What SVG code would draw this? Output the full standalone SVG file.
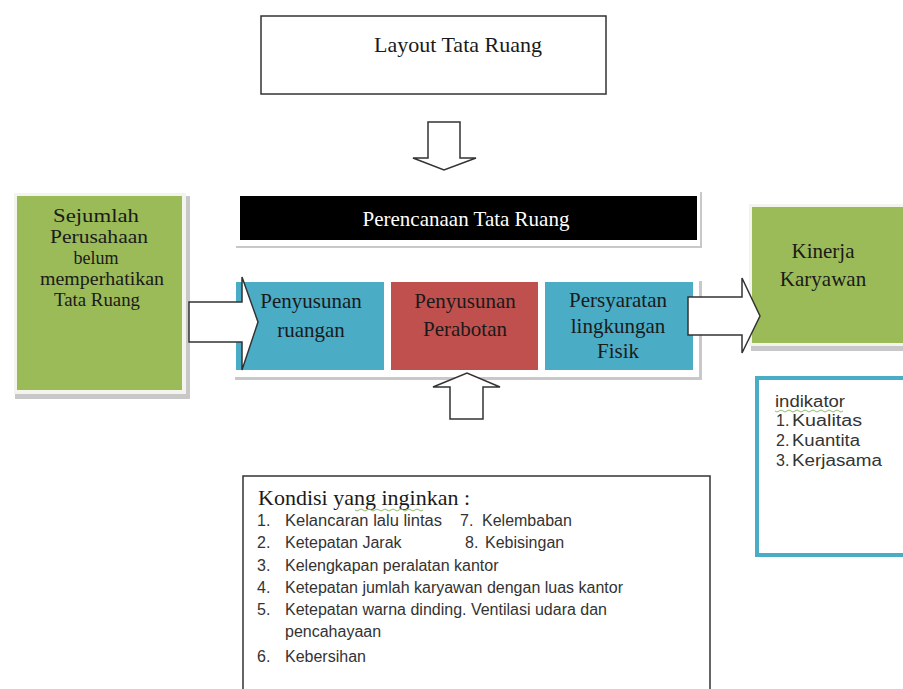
<svg xmlns="http://www.w3.org/2000/svg" width="903" height="689" viewBox="0 0 903 689">
<style>
.serif{font-family:"Liberation Serif","Times New Roman",serif;font-size:21px;fill:#1a1a1a;text-anchor:middle}
.sm{font-size:18px}
.sans{font-family:"Liberation Sans",Arial,sans-serif;font-size:16px;fill:#333}
.ind{font-family:"Liberation Sans",Arial,sans-serif;font-size:16px;fill:#333}
.arrow{fill:#fff;stroke:#333;stroke-width:1.5;stroke-linejoin:miter}
.shadow{fill:#c8c8c8}
.squig{fill:none;stroke:#8fbf6a;stroke-width:1}
</style>
<rect width="903" height="689" fill="#fff"/>

<g id="layout">
<rect x="261" y="16" width="345" height="78" fill="#fff" stroke="#333" stroke-width="1.5"/>
<text class="serif" x="458" y="52" textLength="168" lengthAdjust="spacingAndGlyphs">Layout Tata Ruang</text>
</g>

<g id="perencanaan">
<rect x="236" y="192" width="466" height="56" class="shadow"/>
<rect x="234" y="190" width="466" height="56" fill="#fff"/>
<rect x="240" y="196" width="457" height="44" fill="#000"/>
<text class="serif" x="466" y="226" style="fill:#fff">Perencanaan Tata Ruang</text>
</g>

<g id="sejumlah">
<rect x="15" y="196" width="175" height="203" class="shadow"/>
<rect x="14" y="193" width="172" height="201" fill="#f4f4ee"/>
<rect x="17" y="196" width="165" height="194" fill="#9bbb59"/>
<text class="serif sm" x="96" y="222" textLength="86" lengthAdjust="spacingAndGlyphs">Sejumlah</text>
<text class="serif sm" x="99" y="243" textLength="98" lengthAdjust="spacingAndGlyphs">Perusahaan</text>
<text class="serif sm" x="96" y="264">belum</text>
<text class="serif sm" x="102" y="285" textLength="124" lengthAdjust="spacingAndGlyphs">memperhatikan</text>
<text class="serif sm" x="97" y="306" textLength="86" lengthAdjust="spacingAndGlyphs">Tata Ruang</text>
</g>

<g id="frame">
<rect x="235" y="281" width="467" height="99" class="shadow"/>
<rect x="233" y="278" width="466" height="99" fill="#fff"/>
</g>

<g id="penyusunan-ruangan">
<rect x="236" y="282" width="148" height="88" fill="#4bacc6"/>
<text class="serif" x="311" y="308">Penyusunan</text>
<text class="serif" x="311" y="337">ruangan</text>
</g>

<g id="penyusunan-perabotan">
<rect x="391" y="282" width="147" height="88" fill="#c0504d"/>
<text class="serif" x="465" y="308">Penyusunan</text>
<text class="serif" x="465" y="336">Perabotan</text>
</g>

<g id="persyaratan">
<rect x="545" y="282" width="148" height="88" fill="#4bacc6"/>
<text class="serif" x="618" y="307">Persyaratan</text>
<text class="serif" x="618" y="333">lingkungan</text>
<text class="serif" x="618" y="358">Fisik</text>
</g>

<g id="kinerja">
<rect x="751" y="210" width="152" height="141" class="shadow"/>
<rect x="749" y="204" width="154" height="142" fill="#f4f4ee"/>
<rect x="752" y="207" width="151" height="136" fill="#9bbb59"/>
<text class="serif" x="823" y="258">Kinerja</text>
<text class="serif" x="823" y="286">Karyawan</text>
</g>

<g id="indikator">
<rect x="757" y="378" width="150" height="177" fill="#fff" stroke="#4bacc6" stroke-width="4"/>
<text class="ind" x="775" y="407" textLength="70" lengthAdjust="spacingAndGlyphs">indikator</text>
<path class="squig" d="M775 411 q2 2 4 0 t4 0 t4 0 t4 0 t4 0 t4 0 t4 0 t4 0 t4 0 t4 0 t4 0 t4 0 t4 0 t4 0 t4 0 t4 0 t4 0"/>
<text class="ind" x="776" y="426">1.</text><text class="ind" x="792" y="426" textLength="70" lengthAdjust="spacingAndGlyphs">Kualitas</text>
<text class="ind" x="776" y="446">2.</text><text class="ind" x="792" y="446" textLength="68" lengthAdjust="spacingAndGlyphs">Kuantita</text>
<text class="ind" x="776" y="466">3.</text><text class="ind" x="792" y="466" textLength="90" lengthAdjust="spacingAndGlyphs">Kerjasama</text>
</g>

<g id="kondisi">
<rect x="243" y="476" width="467" height="230" fill="#fff" stroke="#333" stroke-width="1.5"/>
<text class="serif" x="258" y="505" style="text-anchor:start" textLength="212" lengthAdjust="spacingAndGlyphs">Kondisi yang inginkan :</text>
<path class="squig" d="M355 510 q2 2 4 0 t4 0 t4 0 t4 0 t4 0 t4 0 t4 0 t4 0 t4 0 t4 0 t4 0 t4 0 t4 0 t4 0 t4 0 t4 0 t4 0"/>
<text class="sans" x="257" y="526">1.</text><text class="sans" x="285" y="526" textLength="157" lengthAdjust="spacingAndGlyphs">Kelancaran lalu lintas</text>
<text class="sans" x="460" y="526">7.</text><text class="sans" x="482" y="526">Kelembaban</text>
<text class="sans" x="257" y="548">2.</text><text class="sans" x="285" y="548">Ketepatan Jarak</text>
<text class="sans" x="465" y="548">8.</text><text class="sans" x="485" y="548">Kebisingan</text>
<text class="sans" x="257" y="571">3.</text><text class="sans" x="285" y="571">Kelengkapan peralatan kantor</text>
<text class="sans" x="257" y="593">4.</text><text class="sans" x="285" y="593">Ketepatan jumlah karyawan dengan luas kantor</text>
<text class="sans" x="257" y="615">5.</text><text class="sans" x="285" y="615">Ketepatan warna dinding. Ventilasi udara dan</text>
<text class="sans" x="285" y="637">pencahayaan</text>
<text class="sans" x="257" y="662">6.</text><text class="sans" x="285" y="662">Kebersihan</text>
</g>

<g id="connectors">
<path class="arrow" d="M428 122 H460 V158 H476 L444 170 L413 158 H428 Z"/>
<path class="arrow" d="M189 302 H242 V277 L258 322 L242 370 V342 H189 Z"/>
<path class="arrow" d="M688 297 H742 V278 L760 316 L742 353 V335 H688 Z"/>
<path class="arrow" d="M450 419 V387 H433 L467 373 L500 387 H483 V419 Z"/>
</g>
</svg>
